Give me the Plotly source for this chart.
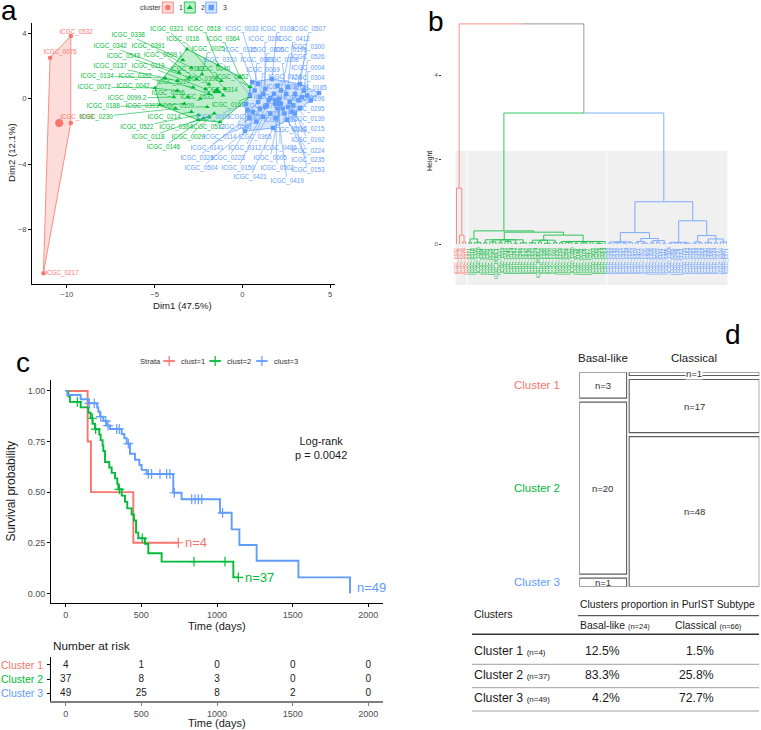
import plotly.graph_objects as go

W, H = 761, 730
FONT = "Liberation Sans, Arial, sans-serif"
RED, GREEN, BLUE, GREY = "#F8766D", "#00BA38", "#619CFF", "#8C8C8C"
CCOL = [RED, GREEN, BLUE]
FILLS = ["rgba(248,118,109,0.25)", "rgba(0,186,56,0.25)", "rgba(97,156,255,0.25)"]
TXT = "#1a1a1a"

# ====================== DATA ======================
# ---- panel a : cluster plot (Dim1 / Dim2) ----
c1_ids = ["ICGC_0532", "ICGC_0076", "ICGC_0098", "ICGC_0217"]
c1_dim1 = [-9.77, -10.95, -9.77, -11.33]
c1_dim2 = [3.84, 2.51, -1.48, -10.69]
c1_lab_dim1 = [-9.47, -10.38, -9.43, -10.28]
c1_lab_dim2 = [4.08, 2.82, -1.14, -10.73]

c2_ids = ["ICGC_0321", "ICGC_0518", "ICGC_0338", "ICGC_0116", "ICGC_0364", "ICGC_0342", "ICGC_0391",
          "ICGC_0025", "ICGC_0543", "ICGC_0099.1", "ICGC_0137", "ICGC_0119", "ICGC_0310", "ICGC_0040",
          "ICGC_0134", "ICGC_0392", "ICGC_0227", "ICGC_0396", "ICGC_0072", "ICGC_0042", "ICGC_0536",
          "ICGC_0052", "ICGC_0314", "ICGC_0099.2", "ICGC_0535", "ICGC_0188", "ICGC_0393", "ICGC_0109",
          "ICGC_0169", "ICGC_0230", "ICGC_0214", "ICGC_0522", "ICGC_0384", "ICGC_0512", "ICGC_0118",
          "ICGC_0029", "ICGC_0146"]
c2_dim1 = [-3.15, -1.38, -3.39, -1.0, -0.13, -3.6, -2.9, -2.3, -3.0, -2.6, -3.7, -2.1, -1.9, -1.2,
           -4.40, -2.8, -1.9, -1.5, -4.97, -3.7, -3.1, 0.44, -1.1, -3.9, -2.4, -4.69, -3.3, -2.0,
           0.44, -3.8, -2.9, -2.5, -1.9, -1.27, -2.52, -1.6, -2.2]
c2_dim2 = [3.04, 2.06, 2.37, 0.6, 1.33, 1.6, 1.9, 1.5, 1.3, 1.2, 1.1, 0.6, 0.9, 1.1,
           1.27, 0.7, 0.3, 0.4, 0.66, 0.5, 0.1, 0.73, 0.2, 0.1, 0.0, -0.39, -0.3, -0.5,
           0.12, -0.6, -0.8, -1.0, -1.1, -1.43, -1.30, -0.9, -1.2]
c2_lab_dim1 = [-4.29, -2.17, -6.5, -3.38, -1.09, -7.53, -5.37, -1.94, -6.78, -4.52, -7.53, -5.37, -3.15, -1.65,
               -8.27, -6.1, -3.93, -2.3, -8.44, -6.22, -4.22, -0.6, -1.2, -6.57, -2.58, -7.93, -5.7, -3.7,
               -0.8, -8.33, -4.45, -6.0, -3.78, -1.94, -5.36, -3.08, -4.5]
c2_lab_dim2 = [4.27, 4.27, 3.9, 3.65, 3.65, 3.23, 3.23, 3.04, 2.62, 2.68, 2.0, 2.0, 1.81, 1.81,
               1.39, 1.39, 1.02, 1.2, 0.71, 0.78, 0.35, 1.3, 0.5, 0.04, 0.1, -0.5, -0.5, -0.5,
               -0.4, -1.13, -1.13, -1.74, -1.74, -1.74, -2.35, -2.35, -2.96]

c3_ids = ["ICGC_0033", "ICGC_0108", "ICGC_0507", "ICGC_0201", "ICGC_0412", "ICGC_0300", "ICGC_0526",
          "ICGC_0004", "ICGC_0304", "ICGC_0185", "ICGC_0296", "ICGC_0295", "ICGC_0139", "ICGC_0215",
          "ICGC_0192", "ICGC_0224", "ICGC_0235", "ICGC_0153", "ICGC_0419", "ICGC_0421", "ICGC_0502",
          "ICGC_0150", "ICGC_0504", "ICGC_0326", "ICGC_0223", "ICGC_0005", "ICGC_0141", "ICGC_0312",
          "ICGC_0486", "ICGC_0114", "ICGC_0365", "ICGC_0548", "ICGC_0026", "ICGC_0003", "ICGC_0135",
          "ICGC_0163", "ICGC_0318", "ICGC_0305", "ICGC_0199", "ICGC_0325", "ICGC_0308", "ICGC_0330",
          "ICGC_0089", "ICGC_0069", "ICGC_0124", "ICGC_0037", "ICGC_0110", "ICGC_0007", "ICGC_0171"]
c3_dim1 = [0.9, 1.69, 3.29, 1.3, 2.6, 3.0, 3.5, 3.7, 3.2, 4.37, 3.9, 3.29, 2.9, 2.8,
           3.0, 2.55, 2.4, 2.7, 2.0, 1.75, 1.9, 1.2, 0.15, 0.6, 1.0, 2.2, 0.4, 1.4,
           2.1, 0.8, 1.6, 0.3, 0.9, 0.21, 1.5, 2.3, 2.6, 1.2, 2.2, 0.56, 2.5, 0.44,
           0.7, 1.0, 2.0, 1.8, 1.6, 3.4, 1.3]
c3_dim2 = [0.9, 1.21, 0.90, 0.6, 0.7, 0.3, 0.5, 0.2, -0.1, 0.35, -0.1, -0.57, -0.4, -0.8,
           -0.9, -1.30, -0.9, -0.2, -0.6, -1.79, -1.2, -1.1, -1.98, -0.8, -0.6, -0.3, -1.2, -0.4,
           0.0, -1.4, -0.9, -0.7, -0.2, -0.32, -0.1, -0.6, -0.5, 0.3, 0.5, 1.02, 0.3, 0.23,
           0.5, 0.1, 0.8, 0.3, 0.05, 0.1, -0.5]
c3_lab_dim1 = [-0.02, 1.98, 3.80, 1.29, 2.89, 3.74, 3.74, 3.74, 3.74, 3.86, 3.74, 3.74, 3.74, 3.74,
               3.74, 3.74, 3.74, 3.74, 2.55, 0.44, 1.98, -0.24, -2.35, -2.58, -0.81, 1.58, -2.0, 0.15,
               2.15, -1.27, 0.72, -0.42, 0.15, -1.67, 1.18, 2.15, 2.72, 1.41, 2.72, -0.13, 2.26, -1.27,
               0.84, 1.18, 2.43, 2.32, 1.58, 3.29, 1.0]
c3_lab_dim2 = [4.27, 4.27, 4.27, 3.65, 3.65, 3.17, 2.55, 1.88, 1.27, 0.66, -0.02, -0.63, -1.24, -1.86,
               -2.53, -3.2, -3.81, -4.42, -5.04, -4.8, -4.24, -4.24, -4.24, -3.63, -3.63, -3.63, -3.02, -3.02,
               -3.02, -2.35, -2.35, -1.74, -1.12, -1.12, -0.94, -1.3, -1.92, 2.98, 2.98, 2.98, 2.37, 2.37,
               2.37, 1.76, 1.33, 0.72, 0.1, 0.04, -0.45]

center_dim1 = [-10.43, -1.44, 1.97]
center_dim2 = [-1.48, 0.47, -0.20]
cluster_levels = ["1", "2", "3"]

# ---- panel b : dendrogram (height, children...) ; 0 = leaf ----
dend_cluster_sizes = [4, 46, 40]
tree_red = (1.32, 0, (0.21, 0, (0.05, 0, 0)))
tree_green = (0.31,
              (0.12, (0.03, 0, 0), (0.04, 0, 0, 0)),
              (0.28,
               (0.10, (0.03, 0, 0), (0.05, 0, 0, 0), (0.04, 0, 0), (0.06, 0, 0, 0), (0.02, 0, 0), (0.03, 0, 0, 0)),
               (0.21,
                (0.09, (0.03, 0, 0, 0), (0.05, 0, 0), (0.02, 0, 0, 0), (0.04, 0, 0)),
                (0.06, (0.03, 0, 0), (0.04, 0, 0, 0), (0.02, 0, 0), (0.03, 0, 0, 0), (0.05, 0, 0), (0.02, 0, 0, 0), 0))))
tree_blue = (1.00,
             (0.27,
              (0.05, (0.02, 0, 0), (0.03, 0, 0, 0), (0.02, 0, 0), (0.04, 0, 0)),
              (0.13, (0.06, (0.03, 0, 0), (0.02, 0, 0, 0)), (0.08, (0.03, 0, 0), (0.04, 0, 0), (0.02, 0, 0)))),
             (0.55,
              (0.04, (0.02, 0, 0), (0.03, 0, 0, 0), (0.02, 0, 0, 0)),
              (0.20, (0.05, (0.02, 0, 0), (0.03, 0, 0)), (0.12, (0.04, 0, 0, 0), (0.03, 0, 0), (0.05, 0, 0, 0)))))
dend_tree = (5.21, tree_red, (3.10, tree_green, tree_blue))
dend_leaf_ids = c1_ids + c2_ids + c3_ids
dend_rect_top = 2.21
dend_rect_bottom = -0.97

# ---- panel c : Kaplan-Meier ----
km_c1_time = [145, 167, 447]
km_c1_surv = [0.75, 0.50, 0.25]
km_c1_censor = [744]
km_c2_time = [17, 28, 99, 150, 165, 178, 194, 222, 231, 244, 249, 260, 288, 304, 326, 341, 348,
              370, 392, 407, 436, 451, 465, 480, 524, 546, 634, 1108]
km_c2_surv = [0.973, 0.946, 0.919, 0.892, 0.865, 0.838, 0.811, 0.784, 0.757, 0.730, 0.703, 0.649, 0.622,
              0.595, 0.568, 0.541, 0.514, 0.483, 0.452, 0.420, 0.390, 0.360, 0.300, 0.272, 0.245, 0.198,
              0.157, 0.079]
km_c2_censor = [77, 176, 198, 355, 506, 848, 1053, 1141]
km_c3_time = [11, 99, 150, 208, 216, 227, 249, 271, 293, 370, 388, 403, 425, 458, 487, 502, 535,
              711, 766, 1020, 1097, 1148, 1262, 1538, 1879]
km_c3_surv = [0.980, 0.959, 0.939, 0.918, 0.897, 0.873, 0.852, 0.829, 0.812, 0.787, 0.766, 0.740,
              0.690, 0.660, 0.634, 0.610, 0.590, 0.497, 0.465, 0.398, 0.316, 0.239, 0.161, 0.079, 0.0]
km_c3_censor = [156, 189, 232, 265, 280, 337, 354, 414, 546, 568, 623, 667, 689, 718, 833, 855, 877,
                899, 1037]
km_n = [4, 37, 49]
km_strata = ["clust=1", "clust=2", "clust=3"]
logrank_p = "0.0042"
time_ticks = [0, 500, 1000, 1500, 2000]
surv_ticks = [0.0, 0.25, 0.50, 0.75, 1.00]

# ---- number at risk ----
risk_times = [0, 500, 1000, 1500, 2000]
risk_c1 = [4, 1, 0, 0, 0]
risk_c2 = [37, 8, 3, 0, 0]
risk_c3 = [49, 25, 8, 2, 0]
risk_names = ["Cluster 1", "Cluster 2", "Cluster 3"]

# ---- panel d : mosaic + table ----
subtypes = ["Basal-like", "Classical"]
mosaic_basal = [3, 20, 1]
mosaic_classical = [1, 17, 48]
cluster_names = ["Cluster 1", "Cluster 2", "Cluster 3"]

# ====================== HELPERS ======================
def PX(px):
    return px / W

def PY(py):
    return 1 - py / H

ann = []
shp = []
fig = go.Figure()


def text(t, px, py, size, color=TXT, xa="center", ya="middle", angle=0, **kw):
    ann.append(dict(text=t, x=PX(px), y=PY(py), xref="paper", yref="paper", showarrow=False,
                    font=dict(family=FONT, size=size, color=color), xanchor=xa, yanchor=ya,
                    textangle=angle, **kw))


def hline(x0, x1, py, color, width):
    shp.append(dict(type="line", xref="paper", yref="paper", x0=PX(x0), x1=PX(x1), y0=PY(py), y1=PY(py),
                    line=dict(color=color, width=width)))


def convex_hull(xs, ys):
    pts = sorted(set(zip(xs, ys)))
    if len(pts) < 3:
        return xs, ys

    def cross(o, a, b):
        return (a[0] - o[0]) * (b[1] - o[1]) - (a[1] - o[1]) * (b[0] - o[0])
    lower, upper = [], []
    for p in pts:
        while len(lower) >= 2 and cross(lower[-2], lower[-1], p) <= 0:
            lower.pop()
        lower.append(p)
    for p in reversed(pts):
        while len(upper) >= 2 and cross(upper[-2], upper[-1], p) <= 0:
            upper.pop()
        upper.append(p)
    h = lower[:-1] + upper[:-1]
    h.append(h[0])
    return [p[0] for p in h], [p[1] for p in h]


# ====================== PANEL A ======================
A_DOM_X = (32, 335)
A_DOM_Y = (23, 284)
A_RX = (-11.98, 5.28)
A_RY = (-11.35, 4.64)
ux = (A_DOM_X[1] - A_DOM_X[0]) / (A_RX[1] - A_RX[0])   # px per Dim1 unit
uy = (A_DOM_Y[1] - A_DOM_Y[0]) / (A_RY[1] - A_RY[0])   # px per Dim2 unit
LAB_FS = 6.3

clusters = [
    (c1_ids, c1_dim1, c1_dim2, c1_lab_dim1, c1_lab_dim2),
    (c2_ids, c2_dim1, c2_dim2, c2_lab_dim1, c2_lab_dim2),
    (c3_ids, c3_dim1, c3_dim2, c3_lab_dim1, c3_lab_dim2),
]
symbols = ["circle", "triangle-up", "square"]

for k, (ids, dx, dy, lx, ly) in enumerate(clusters):
    hx, hy = convex_hull(dx, dy)
    fig.add_trace(go.Scatter(x=hx, y=hy, mode="lines", fill="toself", fillcolor=FILLS[k],
                             line=dict(color=CCOL[k], width=0.8), xaxis="x", yaxis="y", hoverinfo="skip"))
for k, (ids, dx, dy, lx, ly) in enumerate(clusters):
    sx, sy = [], []
    for i in range(len(ids)):
        hw = len(ids[i]) * LAB_FS * 0.29 + 1
        hh = 4.0
        ddx = (dx[i] - lx[i]) * ux
        ddy = (dy[i] - ly[i]) * uy
        cand = []
        if abs(ddx) > 1e-9:
            cand.append(hw / abs(ddx))
        if abs(ddy) > 1e-9:
            cand.append(hh / abs(ddy))
        t = min(cand) if cand else 1
        if t >= 0.92:
            continue
        sx += [lx[i] + t * (dx[i] - lx[i]), dx[i], None]
        sy += [ly[i] + t * (dy[i] - ly[i]), dy[i], None]
    fig.add_trace(go.Scatter(x=sx, y=sy, mode="lines", line=dict(color=CCOL[k], width=0.6),
                             xaxis="x", yaxis="y", hoverinfo="skip"))
for k, (ids, dx, dy, lx, ly) in enumerate(clusters):
    fig.add_trace(go.Scatter(x=dx, y=dy, mode="markers",
                             marker=dict(symbol=symbols[k], size=4.5, color=CCOL[k]),
                             xaxis="x", yaxis="y", hoverinfo="skip"))
    fig.add_trace(go.Scatter(x=lx, y=ly, mode="text", text=ids, textposition="middle center",
                             textfont=dict(family=FONT, size=LAB_FS, color=CCOL[k]),
                             xaxis="x", yaxis="y", hoverinfo="skip", cliponaxis=False))
for k in range(3):
    fig.add_trace(go.Scatter(x=[center_dim1[k]], y=[center_dim2[k]], mode="markers",
                             marker=dict(symbol=symbols[k], size=8, color=CCOL[k]),
                             xaxis="x", yaxis="y", hoverinfo="skip"))

# legend of panel a
text("cluster", 138, 7.5, 7, "#333333", xa="left")
leg_a_x = [162.3, 184.3, 205.7]
for k in range(3):
    x0 = leg_a_x[k]
    shp.append(dict(type="rect", xref="paper", yref="paper", x0=PX(x0), x1=PX(x0 + 11), y0=PY(13), y1=PY(2),
                    line=dict(color=CCOL[k], width=0.8), fillcolor=FILLS[k]))
    fig.add_trace(go.Scatter(x=[x0 + 5.5], y=[7.5], mode="markers",
                             marker=dict(symbol=symbols[k], size=5.5, color=CCOL[k]),
                             xaxis="x6", yaxis="y6", hoverinfo="skip"))
    text(cluster_levels[k], x0 + 15, 7.5, 7, "#333333", xa="left")

text("Dim1 (47.5%)", 182, 305, 9.6, TXT)
text("Dim2 (12.1%)", 12, 153, 9.6, TXT, angle=-90)
text("a", 0, 10, 28, "#000000", xa="left", borderpad=0)

# ====================== PANEL B ======================
B_DOM_X = (442, 740)
B_DOM_Y = (18, 290)
LEAF0_PX, LEAF_STEP = 456.5, 3.0333
B_RX = ((B_DOM_X[0] - LEAF0_PX) / LEAF_STEP, (B_DOM_X[1] - LEAF0_PX) / LEAF_STEP)
B_RY = ((244 - B_DOM_Y[1]) / 42.25, (244 - B_DOM_Y[0]) / 42.25)

leaf_cluster = []
for k, n in enumerate(dend_cluster_sizes):
    leaf_cluster += [k] * n
seg = {-1: ([], []), 0: ([], []), 1: ([], []), 2: ([], [])}
counter = [0]


def walk(node):
    if node == 0:
        i = counter[0]
        counter[0] += 1
        return float(i), 0.0, {leaf_cluster[i]}
    h = node[0]
    kids = [walk(c) for c in node[1:]]
    x = (kids[0][0] + kids[-1][0]) / 2
    allc = set()
    for cx, ch, cs in kids:
        key = next(iter(cs)) if len(cs) == 1 else -1
        seg[key][0].extend([x, cx, cx, None])
        seg[key][1].extend([h, h, ch, None])
        allc |= cs
    return x, h, allc


walk(dend_tree)
dcol = {-1: "#7F7F7F", 0: RED, 1: GREEN, 2: BLUE}
start = 0
for k, n in enumerate(dend_cluster_sizes):
    shp.append(dict(type="rect", xref="x2", yref="y2", x0=start - 0.5 + 0.17, x1=start + n - 0.5 - 0.17,
                    y0=dend_rect_bottom, y1=dend_rect_top, line=dict(width=0), fillcolor="#F0F0F0",
                    layer="below"))
    start += n
for key in [-1, 0, 1, 2]:
    fig.add_trace(go.Scatter(x=seg[key][0], y=seg[key][1], mode="lines",
                             line=dict(color=dcol[key], width=1.0), opacity=0.8,
                             xaxis="x2", yaxis="y2", hoverinfo="skip"))
for i, lab in enumerate(dend_leaf_ids):
    ann.append(dict(text=lab, x=i, y=-0.06, xref="x2", yref="y2", showarrow=False, textangle=-90,
                    xanchor="center", yanchor="top", borderpad=0,
                    font=dict(family=FONT, size=5, color=CCOL[leaf_cluster[i]])))
text("Height", 430, 161, 7, TXT, angle=-90)
text("b", 426, 22, 28, "#000000", xa="left")

# ====================== PANEL C ======================
C_DOM_X = (51, 383)
C_DOM_Y = (380, 603.3)
C_RX = (-97, 2097)
C_RY = (-0.049, 1.054)

km = [(km_c1_time, km_c1_surv, km_c1_censor),
      (km_c2_time, km_c2_surv, km_c2_censor),
      (km_c3_time, km_c3_surv, km_c3_censor)]


def surv_at(times, survs, t):
    s = 1.0
    for ti, si in zip(times, survs):
        if ti <= t:
            s = si
    return s


n_lab_y = [0.25, 0.079, 0.03]
for k, (tt, ss, cc) in enumerate(km):
    end = max(tt[-1], cc[-1])
    xs = [0] + tt + ([end] if end > tt[-1] else [])
    ys = [1.0] + ss + ([ss[-1]] if end > tt[-1] else [])
    fig.add_trace(go.Scatter(x=xs, y=ys, mode="lines", line=dict(color=CCOL[k], width=1.9, shape="hv"),
                             xaxis="x3", yaxis="y3", hoverinfo="skip"))
    fig.add_trace(go.Scatter(x=cc, y=[surv_at(tt, ss, c) for c in cc], mode="markers",
                             marker=dict(symbol="cross-thin", size=7, color=CCOL[k],
                                         line=dict(color=CCOL[k], width=1.2)),
                             xaxis="x3", yaxis="y3", hoverinfo="skip"))
    ann.append(dict(text="n=%d" % km_n[k], x=end + 32, y=n_lab_y[k], xref="x3", yref="y3", showarrow=False,
                    xanchor="left", yanchor="middle", font=dict(family=FONT, size=13, color=CCOL[k])))

# legend of panel c
text("Strata", 137.5, 361, 7.6, "#333333", xa="left")
leg_c_x = [163.3, 209.3, 256]
for k in range(3):
    x0 = leg_c_x[k]
    fig.add_trace(go.Scatter(x=[x0, x0 + 11.7], y=[361, 361], mode="lines", line=dict(color=CCOL[k], width=1.6),
                             xaxis="x6", yaxis="y6", hoverinfo="skip"))
    fig.add_trace(go.Scatter(x=[x0 + 5.85], y=[361], mode="markers",
                             marker=dict(symbol="cross-thin", size=7, color=CCOL[k],
                                         line=dict(color=CCOL[k], width=1.2)),
                             xaxis="x6", yaxis="y6", hoverinfo="skip"))
    text(km_strata[k], x0 + 16, 361, 7.6, "#333333", xa="left")

text("Log-rank<br>p = %s" % logrank_p, 293, 448, 11, TXT, xa="left")
text("Survival probability", 11, 491.6, 12, TXT, angle=-90)
text("Time (days)", 217, 626, 11, TXT)
text("c", 14, 362, 28, "#000000", xa="left")

# ---- number at risk ----
R_DOM_Y = (657, 701)
R_RY = (0.43, 3.57)
risk_rows = [risk_c1, risk_c2, risk_c3]
for k in range(3):
    fig.add_trace(go.Scatter(x=risk_times, y=[3 - k] * len(risk_times), mode="text",
                             text=[str(v) for v in risk_rows[k]], textposition="middle center",
                             textfont=dict(family=FONT, size=10, color=TXT),
                             xaxis="x4", yaxis="y4", hoverinfo="skip", cliponaxis=False))
    ann.append(dict(text=risk_names[k], x=PX(44.5), y=3 - k, xref="paper", yref="y4", showarrow=False,
                    xanchor="right", yanchor="middle", font=dict(family=FONT, size=10.5, color=CCOL[k])))
text("Number at risk", 51, 646, 11.8, TXT, xa="left")
text("Time (days)", 217, 722.5, 11, TXT)

# ====================== PANEL D ======================
D_DOM_X = (579.3, 759.3)
D_DOM_Y = (372.3, 586.7)
col_gap = 1.32
row_gap = 0.0194
cols = [mosaic_basal, mosaic_classical]
col_tot = [sum(c) for c in cols]
D_RX = (0, sum(col_tot) + col_gap)
D_RY = (1 + 2 * row_gap, 0)
x_start = 0
col_centers = []
basal_centers = []
for j, col in enumerate(cols):
    x0, x1 = x_start, x_start + col_tot[j]
    col_centers.append((x0 + x1) / 2)
    cum = 0
    for i, n in enumerate(col):
        y0 = cum + i * row_gap
        y1 = y0 + n / col_tot[j]
        cum += n / col_tot[j]
        shp.append(dict(type="rect", xref="x5", yref="y5", x0=x0, x1=x1, y0=y0, y1=y1,
                        line=dict(color="#5E5E5E", width=1.1), fillcolor="white"))
        thin = (y1 - y0) * (D_DOM_Y[1] - D_DOM_Y[0]) / D_RY[0] < 5
        ann.append(dict(text="n=%d" % n, x=(x0 + x1) / 2, y=(y0 + y1) / 2, xref="x5", yref="y5",
                        showarrow=False, font=dict(family=FONT, size=9.5, color="#333333"),
                        bgcolor="white" if thin else None, borderpad=0))
        if j == 0:
            basal_centers.append((y0 + y1) / 2)
    x_start = x1 + col_gap
for j in range(2):
    ann.append(dict(text=subtypes[j], x=col_centers[j], y=PY(358.3), xref="x5", yref="paper", showarrow=False,
                    font=dict(family=FONT, size=11.5, color=TXT)))
for i in range(3):
    ann.append(dict(text=cluster_names[i], x=PX(562), y=basal_centers[i], xref="paper", yref="y5",
                    showarrow=False, xanchor="right", font=dict(family=FONT, size=11.5, color=CCOL[i])))

# ---- table ----
text("Clusters", 472.3, 614.3, 10.5, TXT, xa="left")
text("Clusters proportion in PurIST Subtype", 578, 604.3, 10.4, TXT, xa="left")
hline(578, 759, 615.7, "#333333", 1)
text("Basal-like <span style='font-size:7.5px'>(n=%d)</span>" % col_tot[0], 578, 625.3, 10.4, TXT, xa="left")
text("Classical <span style='font-size:7.5px'>(n=%d)</span>" % col_tot[1], 672.5, 625.3, 10.4, TXT, xa="left")
hline(472, 759, 634.3, "#333333", 1.5)
row_py = [651, 675, 698.3]
for i in range(3):
    n_i = mosaic_basal[i] + mosaic_classical[i]
    text("%s <span style='font-size:8px'>(n=%d)</span>" % (cluster_names[i], n_i), 472.3, row_py[i], 12.3,
         TXT, xa="left")
    text("%.1f%%" % (100 * mosaic_basal[i] / col_tot[0]), 622, row_py[i], 12.2, TXT, xa="right")
    text("%.1f%%" % (100 * mosaic_classical[i] / col_tot[1]), 715.5, row_py[i], 12.2, TXT, xa="right")
for py in [664.3, 687.7, 711]:
    hline(472, 759, py, "#A0A0A0", 1)
text("d", 723, 334, 28, "#000000", xa="left")

# ====================== AXES ======================
def dom(a, b, W_or_H, flip=False):
    if flip:
        return [1 - b / W_or_H, 1 - a / W_or_H]
    return [a / W_or_H, b / W_or_H]


tickf = dict(family=FONT, size=7.7, color="#4D4D4D")
tickc = dict(family=FONT, size=9, color="#4D4D4D")
fig.update_layout(
    width=W, height=H, margin=dict(l=0, r=0, t=0, b=0), autosize=False,
    paper_bgcolor="white", plot_bgcolor="rgba(0,0,0,0)", showlegend=False,
    font=dict(family=FONT),
    xaxis=dict(domain=dom(*A_DOM_X, W), range=list(A_RX), anchor="y", showline=True, linecolor="black",
               linewidth=1, ticks="outside", ticklen=3, tickcolor="black", tickvals=[-10, -5, 0, 5],
               tickfont=tickf, showgrid=False, zeroline=False),
    yaxis=dict(domain=dom(*A_DOM_Y, H, True), range=list(A_RY), anchor="x", showline=True, linecolor="black",
               linewidth=1, ticks="outside", ticklen=3, tickcolor="black", tickvals=[-8, -4, 0, 4],
               tickfont=tickf, showgrid=False, zeroline=False),
    xaxis2=dict(domain=dom(*B_DOM_X, W), range=list(B_RX), anchor="y2", visible=False),
    yaxis2=dict(domain=dom(*B_DOM_Y, H, True), range=list(B_RY), anchor="x2", showline=False,
                ticks="outside", ticklen=2, tickcolor="#333333", tickvals=[0, 2, 4],
                tickfont=dict(family=FONT, size=6, color="#4D4D4D"), showgrid=False, zeroline=False),
    xaxis3=dict(domain=dom(*C_DOM_X, W), range=list(C_RX), anchor="y3", showline=True, linecolor="black",
                linewidth=1, ticks="outside", ticklen=3, tickcolor="black", tickvals=time_ticks,
                tickfont=tickc, showgrid=False, zeroline=False),
    yaxis3=dict(domain=dom(*C_DOM_Y, H, True), range=list(C_RY), anchor="x3", showline=True,
                linecolor="black", linewidth=1, ticks="outside", ticklen=3, tickcolor="black",
                tickvals=surv_ticks, tickformat=".2f", tickfont=tickc, showgrid=False, zeroline=False),
    xaxis4=dict(domain=dom(*C_DOM_X, W), range=list(C_RX), anchor="y4", showline=True, linecolor="#808080",
                linewidth=2, ticks="outside", ticklen=3, tickcolor="#808080", tickvals=risk_times,
                tickfont=tickc, showgrid=False, zeroline=False),
    yaxis4=dict(domain=dom(*R_DOM_Y, H, True), range=list(R_RY), anchor="x4", showline=True,
                linecolor="black", linewidth=1, ticks="outside", ticklen=3, tickcolor="black",
                tickvals=[1, 2, 3], showticklabels=False, showgrid=False, zeroline=False),
    xaxis5=dict(domain=dom(*D_DOM_X, W), range=list(D_RX), anchor="y5", visible=False),
    yaxis5=dict(domain=dom(*D_DOM_Y, H, True), range=list(D_RY), anchor="x5", visible=False),
    xaxis6=dict(domain=[0, 1], range=[0, W], anchor="y6", visible=False),
    yaxis6=dict(domain=[0, 1], range=[H, 0], anchor="x6", visible=False),
    annotations=ann, shapes=shp,
)

fig.write_html("out.html", config={"displayModeBar": False, "staticPlot": True},
               post_script="document.body.style.margin='0px';document.body.style.padding='0px';"
                           "document.body.style.overflow='hidden';")
